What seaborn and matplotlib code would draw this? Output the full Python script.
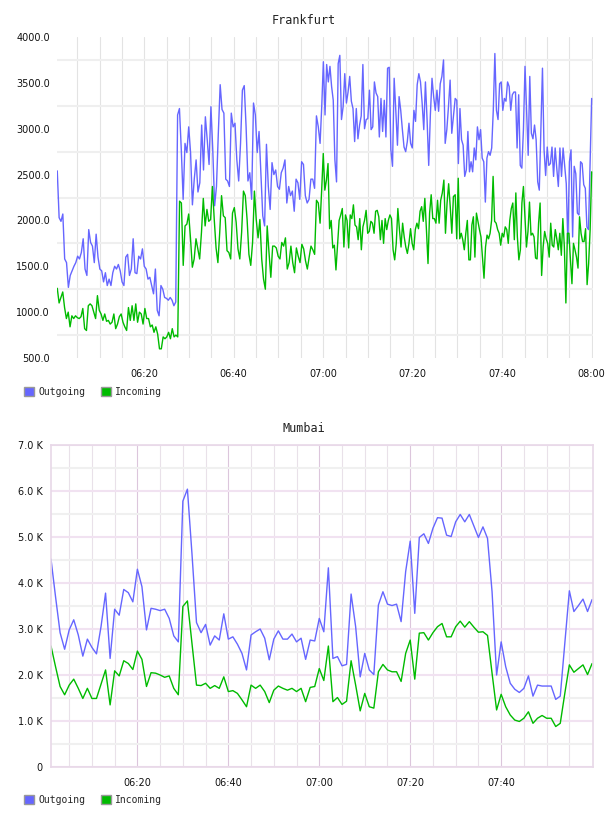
import numpy as np
import pandas as pd
import matplotlib
matplotlib.use('Agg')
import matplotlib.pyplot as plt
from matplotlib.patches import Patch
from matplotlib.ticker import FuncFormatter, FixedLocator
import seaborn as sns

# ---- Frankfurt: in three pieces, each with its own time span
# (minutes after 06:00)
fra_spans = [(0.56, 58.9), (59.3, 89.1), (89.5, 120.0)]

fra_out_a = [
    2540, 2030, 1990, 2070, 1580, 1540, 1270, 1400, 1450, 1500,
    1540, 1610, 1580, 1650, 1800, 1470, 1400, 1900, 1760, 1720,
    1540, 1850, 1600, 1470, 1450, 1330, 1430, 1290, 1360, 1290,
    1430, 1500, 1470, 1520, 1450, 1330, 1290, 1600, 1630, 1400,
    1470, 1800, 1430, 1420, 1610, 1580, 1690, 1500, 1470, 1360,
    1380, 1290, 1200, 1470, 1020, 960, 1290, 1250, 1160, 1150,
    1130, 1160, 1130, 1070, 1110, 3150, 3220, 2770, 2230, 2840,
    2740, 3020, 2740, 2170, 2450, 2660, 2310, 2410, 3040, 2550,
    3130, 2880, 2610, 3240, 2770, 2160, 2370, 2950, 3480, 3210,
    3170, 2450, 2430, 2370, 3170, 3020, 3060, 2660, 2430, 2840,
    3420, 3470, 3020, 2430, 2520, 2230, 3280, 3150, 2740, 2970,
    2520, 2050, 1940, 2830, 2370, 2120, 2630, 2500, 2550, 2370,
    2340, 2520, 2570, 2660, 2190, 2370, 2270, 2320, 2100, 2450,
    2410, 2230, 2640, 2610, 2270, 2190, 2230, 2450, 2450, 2350,
    3140, 3020,
]
fra_in_a = [
    1260, 1100, 1160, 1220, 1050, 930, 1000, 840, 960, 930,
    960, 940, 930, 950, 1040, 820, 800, 1070, 1090, 1070,
    1000, 930, 1180, 1020, 980, 910, 980, 900, 910, 870,
    890, 980, 820, 870, 950, 980, 890, 840, 800, 1050,
    910, 1070, 910, 1090, 890, 1000, 980, 870, 1040, 930,
    930, 840, 860, 780, 840, 760, 600, 600, 730, 710,
    730, 780, 710, 820, 730, 750, 730, 2210, 2190, 1510,
    1940, 1960, 2070, 1800, 1490, 1580, 1800, 1690, 1580, 1870,
    2240, 1940, 2120, 1990, 2010, 2370, 2010, 1700, 1540, 1870,
    2270, 2050, 2030, 1670, 1650, 1580, 2080, 2140, 1980, 1690,
    1580, 1870, 2320, 2270, 2010, 1630, 1510, 1760, 2320, 2010,
    1810, 2010, 1580, 1360, 1250, 1940, 1650, 1380, 1720, 1720,
    1700, 1610, 1580, 1760, 1720, 1810, 1470, 1540, 1720, 1540,
    1430, 1700, 1610, 1540, 1740, 1690, 1560, 1470, 1600, 1720,
    1680, 1630, 2220, 2190,
]
fra_out_b = [
    2840, 3240, 3730, 3150, 3700, 3510, 3680, 3460, 3310, 2660,
    2420, 3710, 3800, 3100, 3240, 3600, 3280, 3400, 3570, 3300,
    3220, 2860, 3220, 2890, 3040, 3140, 3700, 3000, 3100, 3110,
    3420, 2990, 3020, 3510, 3390, 3350, 2910, 3330, 2970, 3310,
    2910, 3660, 3670, 2770, 2590, 3550, 3200, 2820, 3350, 3200,
    2990, 2800, 2750, 2860, 3060, 2840, 2790, 3200, 3080, 3480,
    3600, 3510, 3280, 2990, 3510, 3100, 2600, 3150, 3550, 3350,
    3200, 3420, 3190, 3490, 3570, 3750, 2840, 2990, 3240, 3530,
    2950, 3130,
]
fra_in_b = [
    1970, 2330, 2730, 2330, 2440, 2620, 1910, 2000, 1700, 1730,
    1460, 1730, 2000, 2060, 2130, 1710, 2060, 2000, 1700, 2060,
    2020, 2170, 1950, 1930, 1790, 2020, 1680, 1930, 2000, 2110,
    1860, 1880, 1990, 1970, 1860, 2100, 2110, 2040, 1790, 2000,
    1750, 2020, 1900, 2000, 2060, 2020, 1680, 1570, 1750, 2130,
    1900, 1710, 1970, 1820, 1710, 1640, 1750, 1910, 1750, 1680,
    1900, 1970, 1910, 2100, 2150, 1990, 2240, 1900, 1530, 2080,
    2280, 2020, 2020, 1970, 2220, 1970, 2220, 2300, 2440, 1860,
    2190, 2400, 2150, 1860, 2260,
]
fra_out_c = [
    3330, 3310, 2620, 3220, 2880, 2820, 2480, 2550, 2970, 2530,
    2640, 2530, 2790, 2660, 3020, 2880, 2990, 2680, 2640, 2200,
    2680, 2750, 2710, 2790, 3200, 3820, 3200, 3100, 3490, 3510,
    3200, 3330, 3300, 3510, 3460, 3200, 3370, 3400, 3400, 2790,
    3370, 2600, 2570, 2990, 3680, 3200, 2710, 3570, 2950, 2890,
    3040, 2880, 2420, 2330, 2990, 3660, 2770, 2490, 2800, 2600,
    2620, 2800, 2480, 2790, 2570, 2370, 2790, 2480, 2790, 2590,
    2400, 1750, 2640, 2770, 1820, 2590, 2510, 2080, 2060, 2640,
    2620, 2390, 2350, 1930, 1900, 2620, 3330,
]
fra_in_c = [
    2280, 1800, 2460, 1800, 1860, 1790, 1680, 1860, 2000, 1570,
    1570, 1950, 2040, 1600, 2080, 1990, 1900, 1820, 1600, 1370,
    1710, 1840, 1800, 1860, 2000, 2480, 1990, 1970, 1900, 1860,
    1730, 1860, 1820, 1930, 1900, 1750, 2000, 2130, 2190, 1790,
    2300, 1820, 1570, 1680, 2190, 2370, 2040, 1710, 1880, 2200,
    1840, 1860, 1820, 1590, 1580, 1970, 2190, 1400, 1710, 1880,
    1800, 1750, 1600, 1970, 1730, 1710, 1900, 1800, 1680, 1860,
    1620, 2020, 1710, 1100, 1860, 1860, 1570, 1310, 1750, 1680,
    1600, 1480, 2040, 1860, 1770, 1770, 1910, 1300, 1530, 1900,
    2530,
]

# ---- Mumbai: one value per minute, 06:01 .. 08:00, in thousands
mum_out = [
    4.52, 3.70, 2.92, 2.56, 2.98, 3.20, 2.87, 2.41, 2.78, 2.60,
    2.46, 3.05, 3.78, 2.36, 3.43, 3.30, 3.86, 3.79, 3.59, 4.30,
    3.92, 2.98, 3.45, 3.43, 3.40, 3.43, 3.23, 2.85, 2.72, 5.78,
    6.04, 4.64, 3.14, 2.92, 3.10, 2.65, 2.85, 2.76, 3.33, 2.78,
    2.83, 2.67, 2.47, 2.11, 2.87, 2.94, 3.00, 2.80, 2.33, 2.78,
    2.96, 2.78, 2.78, 2.89, 2.72, 2.80, 2.34, 2.76, 2.74, 3.23,
    2.94, 4.33, 2.36, 2.40, 2.20, 2.23, 3.76, 3.05, 1.96, 2.47,
    2.11, 2.01, 3.52, 3.81, 3.54, 3.51, 3.54, 3.16, 4.25, 4.91,
    3.34, 4.99, 5.07, 4.86, 5.19, 5.42, 5.41, 5.04, 5.01, 5.33,
    5.49, 5.33, 5.49, 5.24, 4.99, 5.22, 4.97, 3.81, 2.00, 2.72,
    2.18, 1.82, 1.69, 1.62, 1.71, 1.98, 1.54, 1.78, 1.76, 1.76,
    1.76, 1.47, 1.54, 2.69, 3.83, 3.38, 3.51, 3.65, 3.38, 3.64,
]
mum_in = [
    2.63, 2.18, 1.75, 1.57, 1.78, 1.91, 1.71, 1.49, 1.71, 1.49,
    1.49, 1.80, 2.11, 1.35, 2.09, 1.98, 2.31, 2.25, 2.12, 2.52,
    2.34, 1.75, 2.05, 2.04, 2.00, 1.95, 1.98, 1.71, 1.57, 3.49,
    3.61, 2.69, 1.78, 1.77, 1.82, 1.71, 1.77, 1.71, 1.96, 1.64,
    1.66, 1.60, 1.46, 1.31, 1.78, 1.71, 1.78, 1.64, 1.40, 1.67,
    1.76, 1.71, 1.67, 1.71, 1.64, 1.71, 1.42, 1.73, 1.75, 2.14,
    1.88, 2.63, 1.42, 1.51, 1.36, 1.43, 2.31, 1.78, 1.22, 1.60,
    1.31, 1.28, 2.07, 2.23, 2.11, 2.07, 2.07, 1.86, 2.47, 2.76,
    1.91, 2.91, 2.92, 2.76, 2.92, 3.05, 3.12, 2.83, 2.83, 3.05,
    3.17, 3.04, 3.16, 3.04, 2.93, 2.94, 2.86, 2.04, 1.24, 1.58,
    1.31, 1.13, 1.02, 0.99, 1.06, 1.20, 0.95, 1.06, 1.12, 1.06,
    1.06, 0.88, 0.95, 1.60, 2.22, 2.06, 2.14, 2.22, 2.01, 2.25,
]
mum_start = 1  # first sample at 06:01

series_names = ['Outgoing', 'Incoming']
colors = {'Outgoing': '#6666ff', 'Incoming': '#00bb00'}


def piece_times(pieces):
    return np.concatenate([np.linspace(s, e, len(p)) for (s, e), p in zip(fra_spans, pieces)])


fra = pd.concat([
    pd.DataFrame({'minute': piece_times([fra_out_a, fra_out_b, fra_out_c]),
                  'value': fra_out_a + fra_out_b + fra_out_c, 'series': 'Outgoing'}),
    pd.DataFrame({'minute': piece_times([fra_in_a, fra_in_b, fra_in_c]),
                  'value': fra_in_a + fra_in_b + fra_in_c, 'series': 'Incoming'}),
])
mum_minutes = np.arange(len(mum_out)) + mum_start
mum = pd.concat([
    pd.DataFrame({'minute': mum_minutes, 'value': np.array(mum_out) * 1000, 'series': 'Outgoing'}),
    pd.DataFrame({'minute': mum_minutes, 'value': np.array(mum_in) * 1000, 'series': 'Incoming'}),
])

sns.set_style('white')
plt.rcParams['font.family'] = ['DejaVu Sans']
mono = {'family': 'DejaVu Sans Mono'}


def hhmm(m, pos=None):
    m = int(round(m))
    return f'{6 + m // 60:02d}:{m % 60:02d}'


fig = plt.figure(figsize=(6.08, 8.16), dpi=100)
W, H = 608, 816
ax1 = fig.add_axes([57 / W, 1 - 358 / H, 536 / W, 321 / H])
ax2 = fig.add_axes([51 / W, 1 - 767 / H, 542 / W, 322 / H])

for ax, df in ((ax1, fra), (ax2, mum)):
    sns.lineplot(data=df, x='minute', y='value', hue='series', hue_order=series_names,
                 palette=colors, estimator=None, sort=False, legend=False, lw=1.0, ax=ax)
    ax.set_xlabel('')
    ax.set_ylabel('')
    ax.set_axisbelow(True)
    ax.xaxis.set_major_formatter(FuncFormatter(hhmm))
    ax.tick_params(which='both', length=0, labelsize=7, colors='#111111')
    ax.tick_params(axis='x', pad=8)

# Frankfurt axes
ax1.set_xlim(0.5, 120.3)
ax1.set_ylim(500, 4000)
ax1.xaxis.set_major_locator(FixedLocator(np.arange(20, 121, 20)))
ax1.xaxis.set_minor_locator(FixedLocator(np.arange(5, 121, 5)))
ax1.yaxis.set_major_locator(FixedLocator(np.arange(500, 4001, 500)))
ax1.yaxis.set_minor_locator(FixedLocator(np.arange(750, 4000, 500)))
ax1.yaxis.set_major_formatter(FuncFormatter(lambda v, p: f'{v:.1f}'))
ax1.tick_params(axis='y', pad=5)
ax1.grid(False)
ax1.grid(axis='x', which='both', color='#e3e3e3', lw=0.8)
ax1.grid(axis='y', which='minor', color='#efefef', lw=1.5)
for s in ax1.spines.values():
    s.set_visible(False)

# Mumbai axes
ax2.set_xlim(1.0, 120.2)
ax2.set_ylim(0, 7000)
ax2.xaxis.set_major_locator(FixedLocator(np.arange(20, 101, 20)))
ax2.xaxis.set_minor_locator(FixedLocator(np.arange(5, 120, 5)))
ax2.yaxis.set_major_locator(FixedLocator(np.arange(0, 7001, 1000)))
ax2.yaxis.set_minor_locator(FixedLocator(np.arange(500, 7000, 1000)))
ax2.yaxis.set_major_formatter(FuncFormatter(lambda v, p: '0' if v == 0 else f'{v / 1000:.1f} K'))
ax2.tick_params(axis='y', pad=6)
ax2.grid(False)
ax2.grid(axis='x', which='major', color='#dcc6dc', lw=0.8)
ax2.grid(axis='x', which='minor', color='#e9e1e9', lw=0.8)
ax2.grid(axis='y', which='major', color='#f1e2f1', lw=1.5)
ax2.grid(axis='y', which='minor', color='#f0f0f0', lw=1.5)
for s in ax2.spines.values():
    s.set_visible(True)
    s.set_color('#e8d8e8')
    s.set_linewidth(1.2)

# titles
fig.text(0.5, 1 - 20 / H, 'Frankfurt', ha='center', va='center', fontsize=8.5, color='#222222', **mono)
fig.text(0.5, 1 - 429 / H, 'Mumbai', ha='center', va='center', fontsize=8.5, color='#222222', **mono)

# legends
handles = [Patch(facecolor=colors[n], edgecolor='#999999', lw=1.0) for n in series_names]
for ypix in (392, 800):
    fig.legend(handles, series_names, loc='center left', bbox_to_anchor=(24 / W, 1 - ypix / H),
               ncol=2, frameon=False, handlelength=1.05, handleheight=1.05,
               handletextpad=0.4, columnspacing=1.65, borderaxespad=0, borderpad=0,
               prop={'family': 'DejaVu Sans Mono', 'size': 7})

fig.savefig('out.png', dpi=100)
